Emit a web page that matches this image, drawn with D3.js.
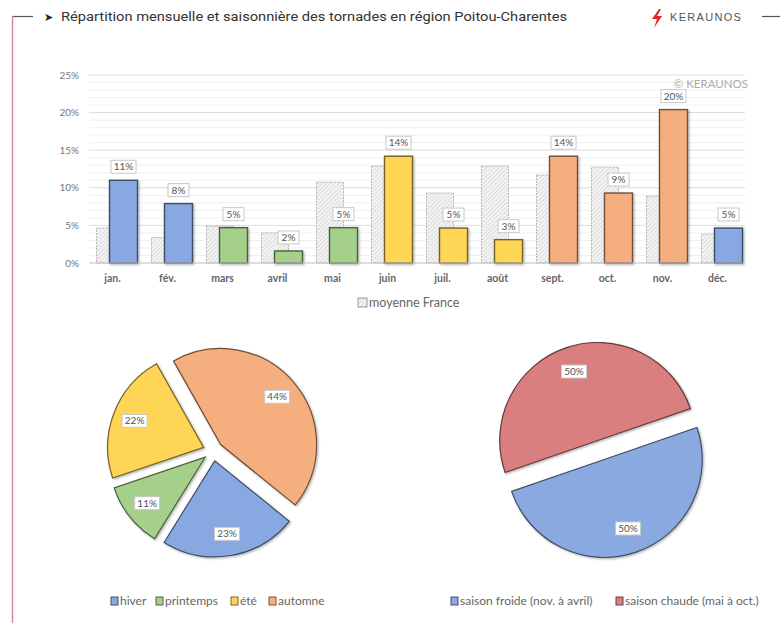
<!DOCTYPE html>
<html><head><meta charset="utf-8">
<script src="https://cdn.jsdelivr.net/npm/d3@7"></script>
<style>body{margin:0;background:#fff;} svg{display:block;}</style>
</head><body>
<svg id="c" width="780" height="623"></svg>
<script>
const months = ["jan.","fév.","mars","avril","mai","juin","juil.","août","sept.","oct.","nov.","déc."];
const regionValues = [11.0,7.9,4.7,1.6,4.7,14.2,4.65,3.1,14.2,9.3,20.4,4.65];
const regionLabels = ["11%","8%","5%","2%","5%","14%","5%","3%","14%","9%","20%","5%"];
const franceValues = [4.65,3.4,4.9,4.0,10.75,12.9,9.3,12.9,11.7,12.75,8.9,3.85];
const monthSeason = ["hiver","hiver","printemps","printemps","printemps","été","été","été","automne","automne","automne","hiver"];
const yTicks = [0,5,10,15,20,25];
const seasons = ["hiver","printemps","été","automne"];
const seasonValues = [23,11,22,44];
const seasonLabels = ["23%","11%","22%","44%"];
const halves = ["saison froide (nov. à avril)","saison chaude (mai à oct.)"];
const halfValues = [50,50];
const halfLabels = ["50%","50%"];

const colors = {"hiver":"#87A8E1","printemps":"#A5D08A","été":"#FFD555","automne":"#F5AE7E",
  "saison froide (nov. à avril)":"#8AA9E0","saison chaude (mai à oct.)":"#DA7F7F"};

const svg = d3.select("#c");
const defs = svg.append("defs");
const pat = defs.append("pattern").attr("id","hatch").attr("patternUnits","userSpaceOnUse")
  .attr("width",3).attr("height",3).attr("patternTransform","rotate(45)");
pat.append("rect").attr("width",3).attr("height",3).attr("fill","#f4f4f4");
pat.append("line").attr("x1",0).attr("y1",0).attr("x2",0).attr("y2",3).attr("stroke","#bdbdbd").attr("stroke-width",0.9);
const sh = defs.append("filter").attr("id","sh").attr("x","-20%").attr("y","-20%").attr("width","150%").attr("height","150%");
sh.append("feDropShadow").attr("dx",1.2).attr("dy",1.2).attr("stdDeviation",1).attr("flood-color","#000").attr("flood-opacity",0.3);

// frame
svg.append("line").attr("x1",12).attr("x2",33).attr("y1",16.5).attr("y2",16.5).attr("stroke","#555").attr("stroke-width",1.2);
svg.append("line").attr("x1",12.5).attr("x2",12.5).attr("y1",16).attr("y2",623).attr("stroke","#d98c98").attr("stroke-width",1.5);
svg.append("line").attr("x1",762).attr("x2",780).attr("y1",16.5).attr("y2",16.5).attr("stroke","#555").attr("stroke-width",1.2);

svg.append("text").attr("x",44).attr("y",21).attr("font-family","DejaVu Sans").attr("font-size",11).attr("fill","#222").text("➤");
svg.append("text").attr("x",61).attr("y",21).attr("font-family","Roboto").attr("font-size",13).attr("fill","#333")
  .attr("textLength",506).attr("lengthAdjust","spacingAndGlyphs")
  .text("Répartition mensuelle et saisonnière des tornades en région Poitou-Charentes");
// logo
svg.append("path").attr("d","M659,9 L652,19 L657,19 L654,28 L662,16 L657,16 L661,9 Z").attr("fill","#e0242b");
svg.append("text").attr("x",670).attr("y",20.5).attr("font-family","Liberation Sans").attr("font-size",11)
  .attr("letter-spacing",1.3).attr("fill","#555").text("KERAUNOS");

// bar chart
const x = d3.scaleBand().domain(months).range([87,747]);
const y = d3.scaleLinear().domain([0,25]).range([263,75]);
const g = svg.append("g");
g.selectAll("line.minor").data(d3.range(1,26).filter(v=>v%5!==0)).join("line")
  .attr("x1",89).attr("x2",745).attr("y1",d=>y(d)).attr("y2",d=>y(d)).attr("stroke","#f0f0f0");
g.selectAll("line.major").data(yTicks.slice(1)).join("line")
  .attr("x1",89).attr("x2",745).attr("y1",d=>y(d)).attr("y2",d=>y(d)).attr("stroke","#dcdcdc");
g.selectAll("text.yt").data(yTicks).join("text").attr("x",79).attr("y",d=>y(d)+3.5).attr("text-anchor","end")
  .attr("font-family","Lato").attr("font-size",10).attr("fill","#777").text(d=>d+"%");
svg.append("text").attr("x",748).attr("y",87.5).attr("text-anchor","end").attr("font-family","Lato").attr("font-size",11.5)
  .attr("fill","#aaa").text("© KERAUNOS");

const bw = x.bandwidth();
const cx = m => x(m)+bw/2;
g.selectAll("rect.fr").data(months).join("rect")
  .attr("x",m=>cx(m)-18).attr("width",27).attr("y",(m,i)=>y(franceValues[i])).attr("height",(m,i)=>y(0)-y(franceValues[i]))
  .attr("fill","url(#hatch)").attr("stroke","#a8a8a8").attr("stroke-width",0.8).attr("stroke-dasharray","2,1");
g.selectAll("rect.rg").data(months).join("rect")
  .attr("x",m=>cx(m)-5).attr("width",28).attr("y",(m,i)=>y(regionValues[i])).attr("height",(m,i)=>y(0)-y(regionValues[i]))
  .attr("fill",(m,i)=>colors[monthSeason[i]]).attr("stroke",(m,i)=>d3.color(colors[monthSeason[i]]).darker(2.2))
  .attr("stroke-width",1.4).attr("filter","url(#sh)");
g.append("line").attr("x1",89).attr("x2",745).attr("y1",y(0)).attr("y2",y(0)).attr("stroke","#bfbfbf");
function labelBox(sel, px, py, txt, w){
  const gg = sel.append("g");
  gg.append("rect").attr("x",px-w/2).attr("y",py-6.5).attr("width",w).attr("height",13)
    .attr("fill","#fff").attr("stroke","#c8c8c8").attr("stroke-width",1);
  gg.append("text").attr("x",px).attr("y",py+3.5).attr("text-anchor","middle").attr("font-family","Lato")
    .attr("font-size",10).attr("fill","#555").text(txt);
}
months.forEach((m,i)=>{ labelBox(g, cx(m)+9, y(regionValues[i])-13.5, regionLabels[i], regionLabels[i].length>2?25:21); });
g.selectAll("text.xl").data(months).join("text").attr("x",m=>cx(m)-2).attr("y",282).attr("text-anchor","middle")
  .attr("font-family","Lato").attr("font-weight","bold").attr("font-size",10.5).attr("fill","#666").text(d=>d);
// legend
svg.append("rect").attr("x",358).attr("y",298).attr("width",9).attr("height",9).attr("fill","url(#hatch)").attr("stroke","#999");
svg.append("text").attr("x",369).attr("y",307).attr("font-family","Lato").attr("font-size",12.5).attr("fill","#666").text("moyenne France");

// pies
function drawPie(names, vals, labels, cxp, cyp, r, start, off, labR){
  const pie = d3.pie().sort(null).startAngle(start*Math.PI/180).endAngle((start+360)*Math.PI/180);
  const arcs = pie(vals);
  const arc = d3.arc().innerRadius(0).outerRadius(r);
  const pg = svg.append("g").attr("transform",`translate(${cxp},${cyp})`);
  arcs.forEach((a,i)=>{
    const mid = (a.startAngle+a.endAngle)/2;
    const dx = Math.sin(mid)*off, dy = -Math.cos(mid)*off;
    pg.append("path").attr("d",arc(a)).attr("transform",`translate(${dx},${dy})`)
      .attr("fill",colors[names[i]]).attr("stroke",d3.color(colors[names[i]]).darker(2.2)).attr("stroke-width",1.2)
      .attr("filter","url(#sh)");
  });
  arcs.forEach((a,i)=>{
    const mid = (a.startAngle+a.endAngle)/2;
    const lx = Math.sin(mid)*(off+labR), ly = -Math.cos(mid)*(off+labR);
    labelBox(pg, lx, ly, labels[i], 25);
  });
}
drawPie(seasons, seasonValues, seasonLabels, 213, 451, 96, 129, 10, 74);
drawPie(halves, halfValues, halfLabels, 601, 450, 98, 71, 10, 73);

// bottom legends
function legend(items, xs, yy){
  items.forEach((it,i)=>{
    svg.append("rect").attr("x",xs[i]).attr("y",yy-8).attr("width",7).attr("height",8).attr("fill",colors[it])
      .attr("stroke",d3.color(colors[it]).darker(2)).attr("stroke-width",1);
    svg.append("text").attr("x",xs[i]+9).attr("y",yy).attr("font-family","Lato").attr("font-size",12).attr("fill","#666").text(it);
  });
}
legend(seasons,[111,156,231,269],605);
legend(halves,[451,616],605);
</script>
</body></html>
